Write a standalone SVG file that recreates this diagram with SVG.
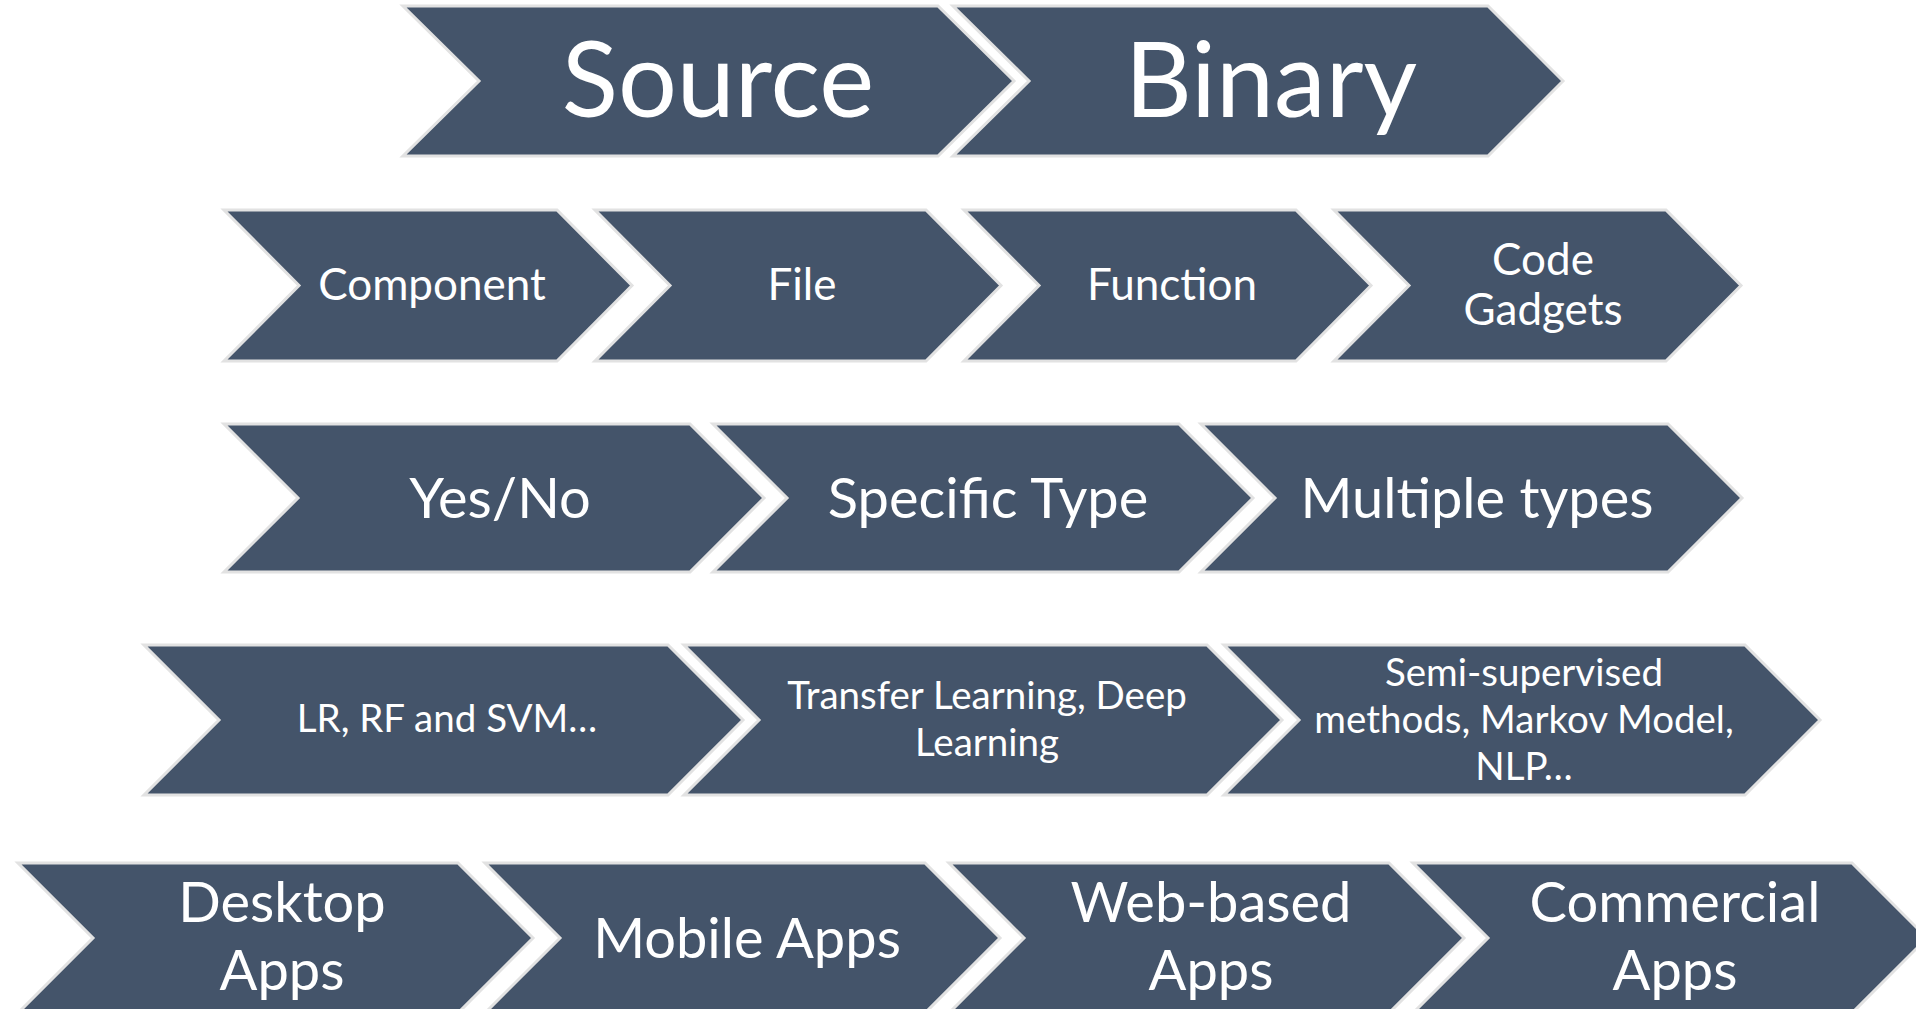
<svg xmlns="http://www.w3.org/2000/svg" width="1916" height="1009" viewBox="0 0 1916 1009">
<style>
.chev{fill:#44546A;stroke:#E2E2E2;stroke-width:3;stroke-linejoin:miter}
.t{fill:#FFFFFF;font-family:Lato,"Open Sans","Liberation Sans",sans-serif;text-anchor:middle}
.s1{font-size:104px}
.s2{font-size:44px}
.s3{font-size:56px}
.s4{font-size:38.5px}
.s5{font-size:56px}
</style>
<rect width="1916" height="1009" fill="#FFFFFF"/>
<g id="connectors"></g>
<g id="source">
<polygon class="chev" points="403,6 938,6 1014,81 938,156 403,156 479,81"/>
<text class="t s1" x="718" y="117">Source</text>
</g>
<g id="binary">
<polygon class="chev" points="953,6 1488,6 1563,81 1488,156 953,156 1029,81"/>
<text class="t s1" x="1271" y="117">Binary</text>
</g>
<g id="component">
<polygon class="chev" points="224,210 557,210 632,285.5 557,361 224,361 299,285.5"/>
<text class="t s2" x="432" y="300">Component</text>
</g>
<g id="file">
<polygon class="chev" points="595,210 926,210 1001,285.5 926,361 595,361 670,285.5"/>
<text class="t s2" x="802" y="300">File</text>
</g>
<g id="function">
<polygon class="chev" points="964,210 1296,210 1371,285.5 1296,361 964,361 1039,285.5"/>
<text class="t s2" x="1172" y="300">Function</text>
</g>
<g id="code-gadgets">
<polygon class="chev" points="1334,210 1666,210 1741,285.5 1666,361 1334,361 1409,285.5"/>
<text class="t s2" x="1543" y="275">Code</text>
<text class="t s2" x="1543" y="325">Gadgets</text>
</g>
<g id="yes-no">
<polygon class="chev" points="224,424 690,424 764,498 690,572 224,572 298,498"/>
<text class="t s3" x="500" y="518">Yes/No</text>
</g>
<g id="specific-type">
<polygon class="chev" points="713,424 1179,424 1253,498 1179,572 713,572 787,498"/>
<text class="t s3" x="988" y="518">Specific Type</text>
</g>
<g id="multiple-types">
<polygon class="chev" points="1201,424 1668,424 1742,498 1668,572 1201,572 1275,498"/>
<text class="t s3" x="1477" y="518">Multiple types</text>
</g>
<g id="lr-rf-svm">
<polygon class="chev" points="144,645 668,645 743,720 668,795 144,795 219,720"/>
<text class="t s4" x="447" y="732">LR, RF and SVM…</text>
</g>
<g id="transfer-deep">
<polygon class="chev" points="684,645 1207,645 1282,720 1207,795 684,795 759,720"/>
<text class="t s4" x="987" y="709">Transfer Learning, Deep</text>
<text class="t s4" x="987" y="756">Learning</text>
</g>
<g id="semi-supervised">
<polygon class="chev" points="1224,645 1745,645 1820,720 1745,795 1224,795 1299,720"/>
<text class="t s4" x="1524" y="686">Semi-supervised</text>
<text class="t s4" x="1524" y="733">methods, Markov Model,</text>
<text class="t s4" x="1524" y="780">NLP…</text>
</g>
<g id="desktop-apps">
<polygon class="chev" points="18,863 458,863 533,938 458,1013 18,1013 93,938"/>
<text class="t s5" x="282" y="922">Desktop</text>
<text class="t s5" x="282" y="990">Apps</text>
</g>
<g id="mobile-apps">
<polygon class="chev" points="485,863 925,863 1000,938 925,1013 485,1013 560,938"/>
<text class="t s5" x="747" y="958">Mobile Apps</text>
</g>
<g id="web-based-apps">
<polygon class="chev" points="949,863 1389,863 1464,938 1389,1013 949,1013 1024,938"/>
<text class="t s5" x="1211" y="922">Web-based</text>
<text class="t s5" x="1211" y="990">Apps</text>
</g>
<g id="commercial-apps">
<polygon class="chev" points="1413,863 1852,863 1927,938 1852,1013 1413,1013 1488,938"/>
<text class="t s5" x="1675" y="922">Commercial</text>
<text class="t s5" x="1675" y="990">Apps</text>
</g>
</svg>
